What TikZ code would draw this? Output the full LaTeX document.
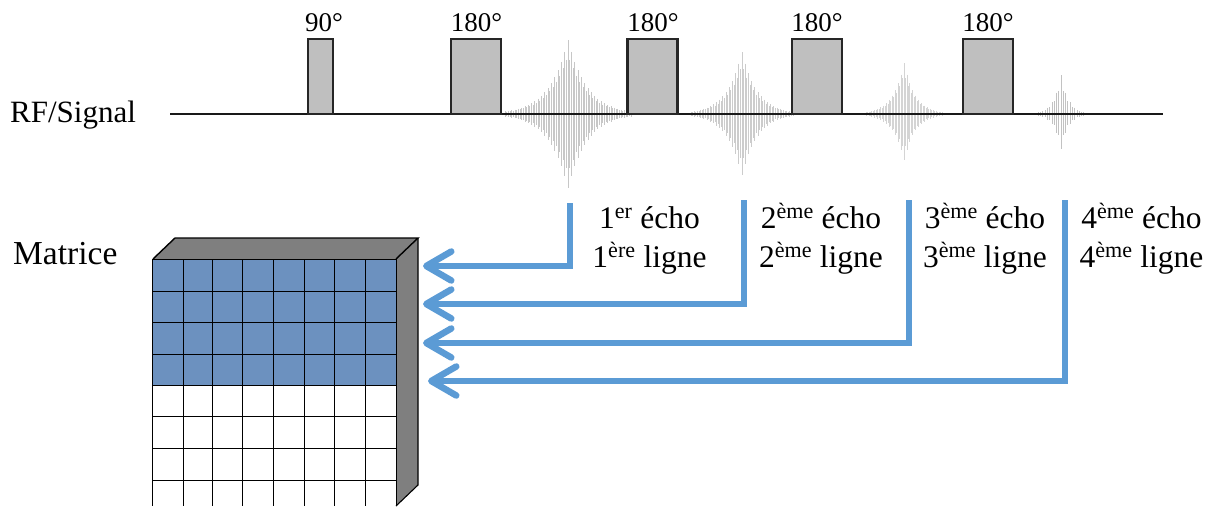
\documentclass[tikz,border=0pt]{standalone}
\usepackage{fontspec}
\setmainfont{Liberation Serif}
\usetikzlibrary{arrows.meta}
\definecolor{pulsegray}{HTML}{BFBFBF}
\definecolor{wallgray}{HTML}{7F7F7F}
\definecolor{cellblue}{HTML}{6C91BF}
\definecolor{arrowblue}{HTML}{5B9BD5}
\tikzset{
  pulse/.style={draw=black!85,line width=2.2pt,fill=pulsegray,inner sep=0pt,outer sep=0pt,minimum height=75pt},
  toplabel/.style={font=\fontsize{27}{27}\selectfont,anchor=base,inner sep=0pt},
  echolabel/.style={font=\fontsize{31.5}{39}\selectfont,align=center,anchor=base,inner sep=0pt},
  routeline/.style={draw=arrowblue,line width=6.5pt,line join=miter},
  routearrow/.style={routeline,-{Straight Barb[round,length=25pt,width=29pt,line width=6.5pt]}},
  cellline/.style={draw=black,line width=1pt},
}
\newcommand{\echoburst}[6]{% centre x, up, down, half width, colour, half count
  \foreach \i in {-#6,...,#6}{
    \pgfmathsetmacro{\dx}{\i*#4/#6}
    \pgfmathsetmacro{\env}{exp(-abs(\dx)/(#4*0.3))}
    \pgfmathsetmacro{\wob}{0.8+0.2*abs(cos(\i*90))}
    \draw[draw=#5,line width=0.8pt]
      ({#1+\dx},{114-#2*\env*\wob}) -- ({#1+\dx},{114+#3*\env*\wob});
  }
}
\begin{document}
\begin{tikzpicture}[x=1pt,y=-1pt]
\useasboundingbox (0,0) rectangle (1212,506);
% echoes
\echoburst{568}{74}{74}{63}{black!22}{38}
\echoburst{742}{62}{61}{51}{black!20}{32}
\echoburst{904}{51}{46}{38}{black!17}{26}
\echoburst{1061}{39}{35}{25}{black!24}{11}
% baseline
\draw[line width=2pt,black!90] (170,114) -- (1163,114);
% pulses
\node[pulse,minimum width=25pt] (p90) at (320.5,76.5) {};
\node[pulse,minimum width=50pt] (p1) at (476,76.5) {};
\node[pulse,minimum width=50pt] (p2) at (652.5,76.5) {};
\node[pulse,minimum width=50pt] (p3) at (817,76.5) {};
\node[pulse,minimum width=50pt] (p4) at (988,76.5) {};
\node[toplabel] (t90) at (324,31) {90°};
\node[toplabel] (t1) at (476.5,31) {180°};
\node[toplabel] (t2) at (653,31) {180°};
\node[toplabel] (t3) at (817,31) {180°};
\node[toplabel] (t4) at (988,31) {180°};
\node[font=\fontsize{31}{31}\selectfont,anchor=base west,inner sep=0pt] (rf) at (10,122) {RF/Signal};
\node[font=\fontsize{33.5}{33.5}\selectfont,anchor=base west,inner sep=0pt] (mat) at (13,264) {Matrice};
% matrix block
\fill[wallgray] (153,259) -- (175,238) -- (418,238) -- (396,259) -- cycle;
\fill[wallgray] (396,259) -- (418,238) -- (418,485) -- (396,506) -- cycle;
\draw[line width=1.4pt] (153,259) -- (175,238) -- (418,238) -- (396,259);
\draw[line width=1.1pt] (418,238) -- (418,485) -- (396,506);
\fill[cellblue] (153,259.5) rectangle (396,385);
\foreach \y in {259.5,291.5,322.7,354,385,416,448,480}{
  \draw[cellline] (153,\y) -- (396,\y);
}
\foreach \x in {152.7,183.3,212.7,242.7,273.7,304.3,334.7,365.3,396}{
  \draw[cellline] (\x,259) -- (\x,506);
}
% echo labels
\node[echolabel] (e1) at (649.5,267) {1\textsuperscript{er} écho\\1\textsuperscript{ère} ligne};
\node[echolabel] (e2) at (821,267) {2\textsuperscript{ème} écho\\2\textsuperscript{ème} ligne};
\node[echolabel] (e3) at (985,267) {3\textsuperscript{ème} écho\\3\textsuperscript{ème} ligne};
\node[echolabel] (e4) at (1141.5,267) {4\textsuperscript{ème} écho\\4\textsuperscript{ème} ligne};
% connectors
\coordinate (s1) at (570,203); \coordinate (c1) at (570,266); \coordinate (m1) at (423,266);
\coordinate (s2) at (744,200); \coordinate (c2) at (744,304); \coordinate (m2) at (423,304);
\coordinate (s3) at (909,200); \coordinate (c3) at (909,343); \coordinate (m3) at (423,343);
\coordinate (s4) at (1065,200); \coordinate (c4) at (1065,381); \coordinate (m4) at (428,381);
\draw[routearrow] (s1) -- (c1) -- (m1);
\draw[routearrow] (s2) -- (c2) -- (m2);
\draw[routearrow] (s3) -- (c3) -- (m3);
\draw[routearrow] (s4) -- (c4) -- (m4);
\end{tikzpicture}
\end{document}
